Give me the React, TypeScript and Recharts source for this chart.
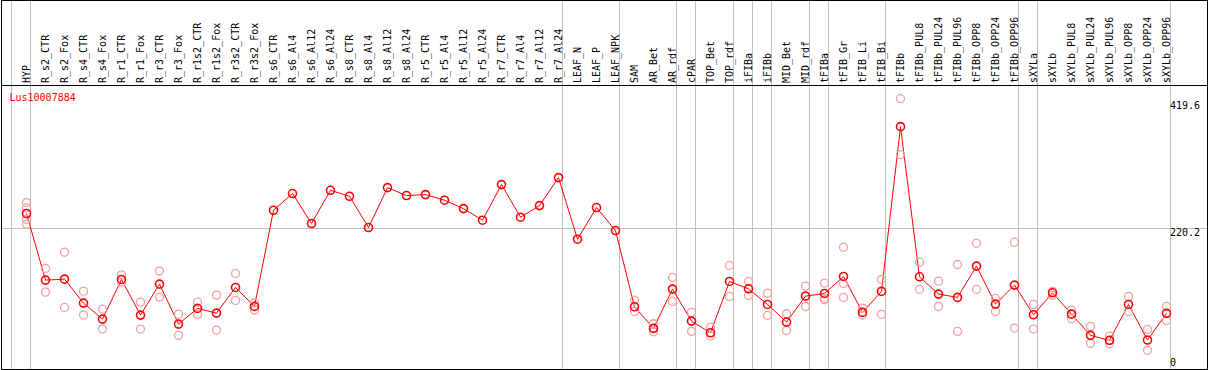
import { ComposedChart, Line, Scatter, XAxis, YAxis, ReferenceLine } from "recharts";

const categories = [
  "HYP", "R_s2_CTR", "R_s2_Fox", "R_s4_CTR", "R_s4_Fox", "R_r1_CTR", "R_r1_Fox", "R_r3_CTR", "R_r3_Fox",
  "R_r1s2_CTR", "R_r1s2_Fox", "R_r3s2_CTR", "R_r3s2_Fox", "R_s6_CTR", "R_s6_Al4", "R_s6_Al12", "R_s6_Al24",
  "R_s8_CTR", "R_s8_Al4", "R_s8_Al12", "R_s8_Al24", "R_r5_CTR", "R_r5_Al4", "R_r5_Al12", "R_r5_Al24",
  "R_r7_CTR", "R_r7_Al4", "R_r7_Al12", "R_r7_Al24", "LEAF_N", "LEAF_P", "LEAF_NPK", "SAM", "AR_Bet", "AR_rdf",
  "cPAR", "TOP_Bet", "TOP_rdf", "iFIBa", "iFIBb", "MID_Bet", "MID_rdf", "tFIBa", "tFIB_Gr", "tFIB_Li", "tFIB_Bi",
  "tFIBb", "tFIBb_PUL8", "tFIBb_PUL24", "tFIBb_PUL96", "tFIBb_OPP8", "tFIBb_OPP24", "tFIBb_OPP96",
  "sXYLa", "sXYLb", "sXYLb_PUL8", "sXYLb_PUL24", "sXYLb_PUL96", "sXYLb_OPP8", "sXYLb_OPP24", "sXYLb_OPP96",
];

const meanValues = [
  243.7, 139.3, 140.8, 103.3, 78.2, 140.3, 84.5, 133, 70.4, 95, 87.6, 127.8, 98.1,
  248.8, 275, 228, 280.1, 270.7, 221.7, 284.3, 271.8, 273.3, 264.5, 251.4, 233.2, 289, 237.9, 256.1, 300,
  203.4, 253, 217, 97.5, 63.7, 125.2, 75.1, 56.8, 137.2, 125.7, 101.2, 73.6, 114.2,
  118.4, 145, 88.7, 121.6, 379.8, 144.5, 117.4, 112.2, 161.2, 101.7, 131.5,
  85, 119.4, 86, 52.7, 44.9, 101.2, 45.4, 87.2,
];

const replicateValues: number[][] = [
  [260.9, 252.4, 234.7, 226.9], [157.6, 120.5], [183, 96.5], [122, 84.5], [93.9, 62.6], [147.6, 136],
  [104.8, 62.6], [153.4, 112.7], [86, 52.7], [104.8, 85.6], [115.8, 61], [149.8, 107.5], [103.8, 92.3],
  [], [], [], [], [], [], [], [], [], [], [], [], [], [], [], [], [], [], [],
  [108, 90.3], [70.9, 58.4], [143.5, 105.9], [88.7, 59], [65.3, 51.6], [162.3, 113.8], [137.2, 115.3],
  [118.9, 84], [86.6, 60.5], [129.9, 98.1], [134.6, 111, 108.5], [190.9, 134.1, 112.2], [95.5, 84.5],
  [140.3, 85.6], [423.6, 336], [167.4, 124.7], [137.7, 98.1], [163.8, 59], [197.2, 124.7], [110.6, 90.3],
  [198.7, 64.2], [101.2, 62.6], [121.6, 115.3], [92.3, 78.7], [66.8, 40.2], [51.6, 39.6], [113.8, 90.3],
  [62.1, 29.3], [98.1, 76.2],
];

// separators are drawn after these category indices
const groupEnds = [-1, 0, 28, 31, 34, 35, 37, 38, 39, 41, 42, 45, 52, 53, 60];
const yTicks = [0, 220.2, 419.6];
const gridValue = 220.2;
const geneId = "Lus10007884";

const W = 1209;
const H = 370;
const X_DOMAIN: [number, number] = [-25.5 / 19, -25.5 / 19 + 1206 / 19];
const Y_DOMAIN: [number, number] = [0, 578.3];
const SEP_OFFSET = 4 / 19;
const FONT = "'DejaVu Sans Mono', monospace";

const rows = categories.map((name, i) => ({ i, name, mean: meanValues[i] }));
const repPoints = replicateValues.flatMap((vals, i) => vals.map((v) => ({ i, v })));

function XTick(props: any) {
  const { x, payload } = props;
  const y = 83;
  return (
    <text
      x={x}
      y={y}
      dy={3.5}
      transform={`rotate(-90, ${x}, ${y})`}
      textAnchor="start"
      fontSize={10}
      fontFamily={FONT}
      fill="#000"
    >
      {categories[payload.value]}
    </text>
  );
}

function YTick(props: any) {
  const { x, y, payload } = props;
  return (
    <text
      x={x - 29}
      y={payload.value === 0 ? y - 3 : y + 7.5}
      textAnchor="start"
      fontSize={10}
      fontFamily={FONT}
      fill="#000"
    >
      {payload.value}
    </text>
  );
}

function MeanDot(props: any) {
  const { cx, cy, index } = props;
  if (cx == null || cy == null) return <g key={index} />;
  return <circle key={index} cx={cx} cy={cy} r={4} fill="none" stroke="#ff0000" strokeWidth={1.6} />;
}

function RepDot(props: any) {
  const { cx, cy } = props;
  return <circle cx={cx} cy={cy} r={4} fill="none" stroke="#f2a0a0" strokeWidth={1.3} />;
}

export default function App() {
  return (
    <div style={{ position: "absolute", left: 0, top: 0, width: W, height: H, background: "#fff" }}>
      <ComposedChart width={W} height={H} data={rows} margin={{ top: 0, right: 2, bottom: 1, left: 1 }}>
        <XAxis
          dataKey="i"
          type="number"
          orientation="top"
          mirror
          domain={X_DOMAIN}
          allowDataOverflow
          ticks={categories.map((_, i) => i)}
          interval={0}
          axisLine={false}
          tickLine={false}
          tick={<XTick />}
        />
        <YAxis
          type="number"
          orientation="right"
          mirror
          domain={Y_DOMAIN}
          allowDataOverflow
          ticks={yTicks}
          interval={0}
          axisLine={false}
          tickLine={false}
          tick={<YTick />}
        />
        <ReferenceLine y={gridValue} stroke="#c0c0c0" strokeWidth={1} />
        {groupEnds.map((g) => (
          <ReferenceLine key={g} x={g + SEP_OFFSET} stroke="#c0c0c0" strokeWidth={1} />
        ))}
        <Scatter data={repPoints} dataKey="v" shape={<RepDot />} isAnimationActive={false} />
        <Line
          dataKey="mean"
          stroke="#ff0000"
          strokeWidth={1}
          dot={MeanDot}
          activeDot={false}
          isAnimationActive={false}
        />
      </ComposedChart>
      <svg
        width={W}
        height={H}
        style={{ position: "absolute", left: 0, top: 0, pointerEvents: "none" }}
      >
        <rect x={1.5} y={0.5} width={1206} height={369} fill="none" stroke="#000" />
        <line x1={1.5} x2={1207.5} y1={85.5} y2={85.5} stroke="#000" />
        <text x={9.5} y={101} fontSize={10} fontFamily={FONT} fill="#ff0000">
          {geneId}
        </text>
      </svg>
    </div>
  );
}
